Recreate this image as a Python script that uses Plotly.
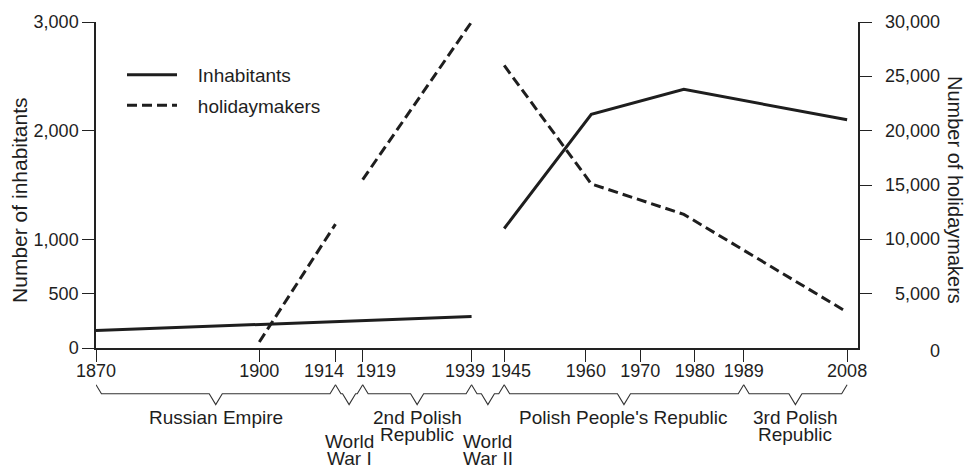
import plotly.graph_objects as go

# ---------------- data ----------------
inh_years = [1870, 1939, None, 1945, 1961, 1978, 2008]
inh_values = [160, 290, None, 1100, 2150, 2380, 2100]

hol_years = [1900, 1914, None, 1919, 1939, None, 1945, 1961, 1978, 2008]
hol_values = [550, 11400, None, 15500, 30000, None, 26000, 15100, 12300, 3300]

x_ticks = [1870, 1900, 1914, 1919, 1939, 1945, 1960, 1970, 1980, 1989, 2008]
left_ticks = [0, 500, 1000, 2000, 3000]
left_labels = ["0", "500", "1,000", "2,000", "3,000"]
right_ticks = [0, 5000, 10000, 15000, 20000, 25000, 30000]
right_labels = ["0", "5,000", "10,000", "15,000", "20,000", "25,000", "30,000"]

period_start = [1870, 1914, 1919, 1939, 1945, 1989]
period_end = [1914, 1919, 1939, 1945, 1989, 2008]
period_names = [["Russian Empire"], ["World", "War I"], ["2nd Polish", "Republic"],
                ["World", "War II"], ["Polish People's Republic"], ["3rd Polish", "Republic"]]

# ---------------- style ----------------
FONT = "Liberation Sans, Arial, Helvetica, sans-serif"
INK = "#1e1e1e"
W, H = 966, 468
L, R, T, B = 96, 108, 20, 120
PH = H - T - B
PW = W - L - R
NB = "\u00a0"

def py(px):  # pixel row -> paper y
    return (H - B - px) / PH

def px_(x):  # pixel column -> paper x
    return (x - L) / PW

# crowded year labels are nudged apart (pixel shift), as in the original
nudge = {1914: -11, 1919: 13, 1939: -7, 1945: 7}
x_labels = ["" if v in nudge else str(v) for v in x_ticks]

fig = go.Figure()
fig.add_trace(go.Scatter(
    x=inh_years, y=inh_values, mode="lines", name=NB * 3 + "Inhabitants",
    line=dict(color=INK, width=3), connectgaps=False, cliponaxis=False,
    legendgroup="a"))
fig.add_trace(go.Scatter(
    x=hol_years, y=hol_values, mode="lines", name=NB * 3 + "holidaymakers",
    line=dict(color=INK, width=3, dash="10px,5px"), connectgaps=False, cliponaxis=False,
    yaxis="y2", legendgroup="b"))

shapes = []
annotations = []
yt, ym, yp = py(385), py(394), py(405)
e, h = 1.0, 1.2
for a, b, names in zip(period_start, period_end, period_names):
    m = (a + b) / 2
    path = (f"M {a},{yt} L {a+e},{ym} L {m-h},{ym} L {m},{yp} "
            f"L {m+h},{ym} L {b-e},{ym} L {b},{yt}")
    shapes.append(dict(type="path", path=path, xref="x", yref="paper",
                       line=dict(color="#333333", width=1.1)))
    first = 442 if names[0] == "World" else 418
    for i, t in enumerate(names):
        annotations.append(dict(x=m, y=py(first + 17 * i), xref="x", yref="paper",
                                text=t, showarrow=False, xanchor="center", yanchor="middle",
                                font=dict(family=FONT, size=19, color=INK)))

# nudged year labels
for v, dx in nudge.items():
    annotations.append(dict(x=v, y=py(371), xref="x", yref="paper", xshift=dx,
                            text=str(v), showarrow=False, xanchor="center", yanchor="middle",
                            font=dict(family=FONT, size=18, color=INK)))

# right axis labels, right-aligned like the original
for v, s in zip(right_ticks, right_labels):
    annotations.append(dict(x=px_(942), y=v, xref="paper", yref="y2", text=s,
                            showarrow=False, xanchor="right", yanchor="middle",
                            yshift=-3 if v == 0 else 0,
                            font=dict(family=FONT, size=18, color=INK)))
# axis titles
annotations.append(dict(x=px_(20), y=py(200), xref="paper", yref="paper",
                        text="Number of inhabitants", textangle=-90, showarrow=False,
                        xanchor="center", yanchor="middle",
                        font=dict(family=FONT, size=21, color=INK)))
annotations.append(dict(x=px_(955), y=py(189), xref="paper", yref="paper",
                        text="Number of holidaymakers", textangle=90, showarrow=False,
                        xanchor="center", yanchor="middle",
                        font=dict(family=FONT, size=20, color=INK)))

axis_common = dict(showline=True, linecolor="#222222", linewidth=1.5, ticks="outside",
                   ticklen=12, tickwidth=1.2, tickcolor="#222222", showgrid=False,
                   zeroline=False, tickfont=dict(family=FONT, size=18, color=INK))

fig.update_layout(
    width=W, height=H,
    margin=dict(l=L, r=R, t=T, b=B),
    paper_bgcolor="white", plot_bgcolor="white",
    font=dict(family=FONT, size=18, color=INK),
    xaxis=dict(range=[1870, 2010], tickvals=x_ticks, ticktext=x_labels, tickangle=0,
               ticklabelstandoff=-6, **axis_common),
    yaxis=dict(range=[0, 3000], tickvals=left_ticks, ticktext=left_labels,
               ticklabelstandoff=0, **axis_common),
    yaxis2=dict(range=[0, 30000], overlaying="y", side="right", tickvals=right_ticks[1:],
                showticklabels=False, **axis_common),
    showlegend=True,
    legend=dict(x=px_(122), y=py(54), xanchor="left", yanchor="top",
                bgcolor="rgba(0,0,0,0)", font=dict(family=FONT, size=19, color=INK),
                itemwidth=50, tracegroupgap=3),
    shapes=shapes, annotations=annotations,
)

fig.write_html("out.html", config={"displayModeBar": False},
               post_script="document.body.style.margin='0';")
